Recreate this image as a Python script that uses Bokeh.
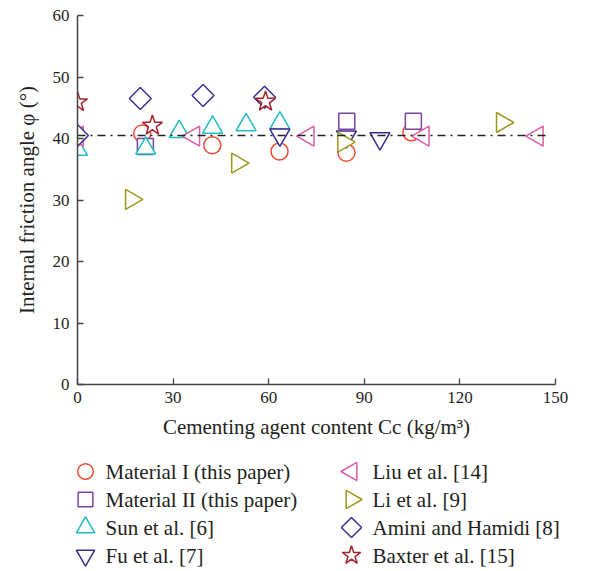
import numpy as np
from bokeh.plotting import figure
from bokeh.models import Range1d, FixedTicker
from bokeh.layouts import column, row
from bokeh.embed import file_html
from bokeh.resources import INLINE
from bokeh.core.properties import value

# ---------------- data ----------------
series_names = ["Material I (this paper)", "Material II (this paper)", "Sun et al. [6]",
                "Fu et al. [7]", "Liu et al. [14]", "Li et al. [9]",
                "Amini and Hamidi [8]", "Baxter et al. [15]"]

mat1_x = [20.3, 42.3, 63.4, 84.4, 104.8]
mat1_y = [40.8, 38.9, 37.9, 37.7, 41.0]
mat2_x = [21.3, 84.5, 105.4]
mat2_y = [38.7, 42.8, 42.8]
sun_x = [0, 21.4, 31.9, 42.4, 52.9, 63.5]
sun_y = [38.2, 38.4, 41.1, 41.8, 42.2, 42.5]
fu_x = [63.5, 84.4, 94.9]
fu_y = [40.6, 40.3, 40.0]
liu_x = [0, 36.5, 72.4, 108.5, 144.3]
liu_y = [40.4, 40.4, 40.4, 40.4, 40.4]
li_x = [16.9, 50.2, 83.5, 133.3]
li_y = [30.1, 36.0, 39.4, 42.6]
amini_x = [0, 19.7, 39.4, 58.7]
amini_y = [40.5, 46.5, 47.0, 46.7]
baxter_x = [0, 23.5, 59.0]
baxter_y = [45.9, 42.1, 46.0]

mean_line_x = [0, 148]
mean_line_y = [40.5, 40.5]

x_ticks = [0, 30, 60, 90, 120, 150]
y_ticks = [0, 10, 20, 30, 40, 50, 60]

xs = [mat1_x, mat2_x, sun_x, fu_x, liu_x, li_x, amini_x, baxter_x]
ys = [mat1_y, mat2_y, sun_y, fu_y, liu_y, li_y, amini_y, baxter_y]

styles = [
    dict(marker="circle", size=17, angle=0.0, color="#ef4b34"),
    dict(marker="square", size=16, angle=0.0, color="#7d43a3"),
    dict(marker="triangle", size=20, angle=0.0, color="#20bcc4"),
    dict(marker="inverted_triangle", size=20, angle=0.0, color="#3a2c8e"),
    dict(marker="triangle", size=20, angle=np.pi / 2, color="#e05aa8"),
    dict(marker="triangle", size=20, angle=-np.pi / 2, color="#9c9a1e"),
    dict(marker="square", size=15.5, angle=np.pi / 4, color="#3b3192"),
    dict(marker="star", size=21, angle=0.0, color="#a8242c"),
]

FONT = "Liberation Serif"
TXT = "#231f20"

# ---------------- main plot ----------------
p = figure(width=611, height=448, x_range=Range1d(0, 150), y_range=Range1d(0, 60),
           output_backend="svg", toolbar_location=None,
           min_border_left=77, min_border_right=56, min_border_top=15, min_border_bottom=64)
p.outline_line_color = None
p.xgrid.visible = False
p.ygrid.visible = False
p.background_fill_color = "white"
p.border_fill_color = "white"

for ax, ticks in ((p.xaxis[0], x_ticks), (p.yaxis[0], y_ticks)):
    ax.ticker = FixedTicker(ticks=ticks)
    ax.major_tick_in = 6
    ax.major_tick_out = 0
    ax.minor_tick_in = 0
    ax.minor_tick_out = 0
    ax.axis_line_color = "#444444"
    ax.axis_line_width = 1.5
    ax.major_tick_line_color = "#444444"
    ax.major_tick_line_width = 1.3
    ax.major_label_text_font = FONT
    ax.major_label_text_font_size = "17px"
    ax.major_label_text_color = TXT
    ax.axis_label_text_font = FONT
    ax.axis_label_text_font_size = "21px"
    ax.axis_label_text_font_style = "normal"
    ax.axis_label_text_color = TXT

p.xaxis.axis_label = "Cementing agent content Cc (kg/m³)"
p.yaxis.axis_label = "Internal friction angle φ (°)"
p.xaxis.major_label_standoff = 7
p.yaxis.major_label_standoff = 8
p.xaxis.axis_label_standoff = 9
p.yaxis.axis_label_standoff = 11

for x, y, st in zip(xs, ys, styles):
    p.scatter(x, y, marker=st["marker"], size=st["size"], angle=st["angle"],
              line_color=st["color"], line_width=1.5, fill_color="white")

p.line(mean_line_x, mean_line_y, line_color="#222222", line_width=1.6, line_dash="8 5 2 5")

# ---------------- legend panel ----------------
leg = figure(width=611, height=121, x_range=Range1d(0, 611), y_range=Range1d(121, 0),
             output_backend="svg", toolbar_location=None, min_border=0,
             x_axis_location=None, y_axis_location=None)
leg.outline_line_color = None
leg.xgrid.visible = False
leg.ygrid.visible = False

col_marker_x = [85, 351]
col_text_x = [105, 372]
row_y = [23, 51, 79, 107]
for i, (name, st) in enumerate(zip(series_names, styles)):
    c, r = divmod(i, 4)
    lsize = st["size"] * 0.92
    leg.scatter([col_marker_x[c]], [row_y[r]], marker=st["marker"], size=lsize, angle=st["angle"],
                line_color=st["color"], line_width=1.5, fill_color="white")
    leg.text([col_text_x[c]], [row_y[r]], text=[name], text_font=value(FONT),
             text_font_size="21px", text_color=TXT, text_align="left", text_baseline="middle")

layout = column(p, row(leg, spacing=0), spacing=0)
open("out.html", "w").write(file_html(layout, INLINE))
